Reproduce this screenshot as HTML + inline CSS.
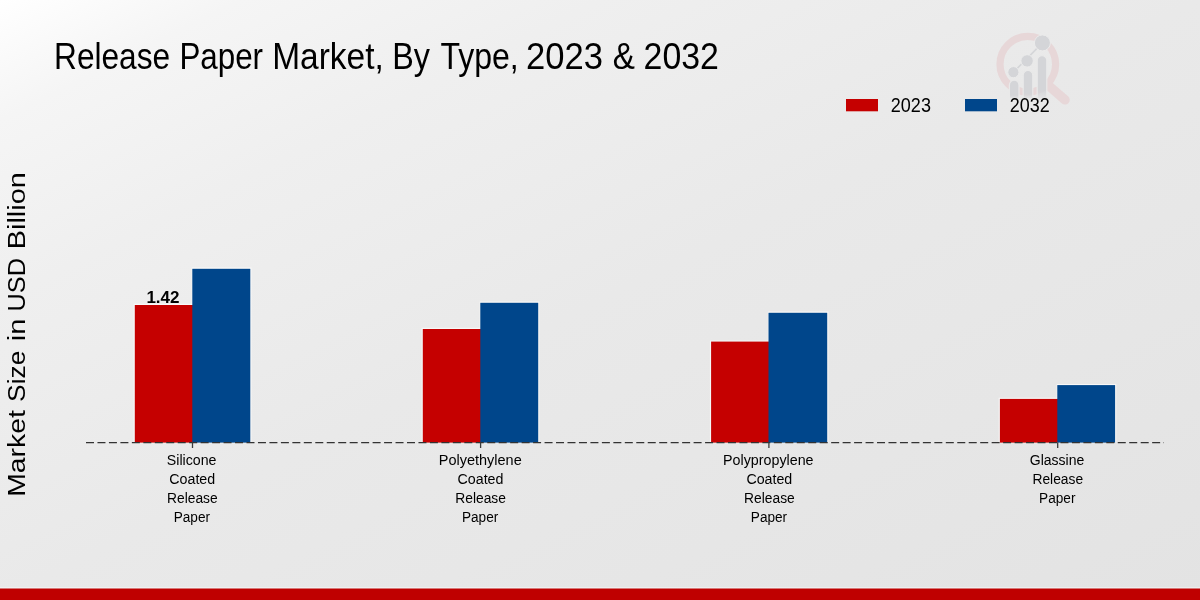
<!DOCTYPE html>
<html><head><meta charset="utf-8">
<style>
html,body{margin:0;padding:0;width:1200px;height:600px;overflow:hidden}
body{background:linear-gradient(to bottom right,#ffffff 0%,#f5f5f5 10%,#efefef 25%,#e9e9e9 50%,#e6e6e6 75%,#e3e3e3 100%);font-family:"Liberation Sans",sans-serif;position:relative}
svg{position:absolute;left:0;top:0;will-change:transform}
</style></head><body>
<svg width="1200" height="600" viewBox="0 0 1200 600" font-family="Liberation Sans, sans-serif">
  <!-- watermark logo -->
  <defs>
    <linearGradient id="barfade" x1="0" y1="0" x2="0" y2="1" gradientUnits="objectBoundingBox">
      <stop offset="0" stop-color="#d4d5d8"/>
      <stop offset="0.8" stop-color="#d4d5d8"/>
      <stop offset="1" stop-color="#d4d5d8" stop-opacity="0.2"/>
    </linearGradient>
  </defs>
  <g>
    <circle cx="1027.8" cy="64.2" r="27.8" fill="none" stroke="#e7d7d8" stroke-width="7.2"/>
    <line x1="1049" y1="86" x2="1065" y2="99.8" stroke="#e7d7d8" stroke-width="9.5" stroke-linecap="round"/>
    <g stroke="#e9e9e9" stroke-width="1.2">
      <path d="M1009.4 99 V85 a4.8 4.8 0 0 1 9.6 0 V99 Z" fill="url(#barfade)"/>
      <path d="M1023.2 99 V75.2 a4.8 4.8 0 0 1 9.6 0 V99 Z" fill="url(#barfade)"/>
      <path d="M1037.2 99 V60.4 a4.8 4.8 0 0 1 9.6 0 V99 Z" fill="url(#barfade)"/>
    </g>
    <line x1="1013.4" y1="72.2" x2="1042.4" y2="42.9" stroke="#d4d5d8" stroke-width="1.5"/>
    <g fill="#d4d5d8" stroke="#ebebeb" stroke-width="1">
      <circle cx="1013.4" cy="72.2" r="5.6"/>
      <circle cx="1027.1" cy="60.9" r="6.2"/>
      <circle cx="1042.4" cy="42.9" r="8"/>
    </g>
  </g>
  <!-- title -->
  <g font-size="36" fill="#000">
    <text x="54.06" y="68.6" textLength="116.08" lengthAdjust="spacingAndGlyphs">Release</text>
    <text x="179.39" y="68.6" textLength="83.68" lengthAdjust="spacingAndGlyphs">Paper</text>
    <text x="272.21" y="68.6" textLength="111.61" lengthAdjust="spacingAndGlyphs">Market,</text>
    <text x="392.31" y="68.6" textLength="37.71" lengthAdjust="spacingAndGlyphs">By</text>
    <text x="440.41" y="68.6" textLength="78.31" lengthAdjust="spacingAndGlyphs">Type,</text>
    <text x="526.08" y="68.6" textLength="76.97" lengthAdjust="spacingAndGlyphs">2023</text>
    <text x="612.83" y="68.6" textLength="22.19" lengthAdjust="spacingAndGlyphs">&amp;</text>
    <text x="643.62" y="68.6" textLength="75.35" lengthAdjust="spacingAndGlyphs">2032</text>
  </g>
  <!-- legend -->
  <rect x="846" y="99" width="32" height="12.3" fill="#c50000"/>
  <text x="890.82" y="112.3" font-size="20.5" textLength="40.12" lengthAdjust="spacingAndGlyphs" fill="#000">2023</text>
  <rect x="965" y="99" width="32" height="12.3" fill="#00468b"/>
  <text x="1009.82" y="112.3" font-size="20.5" textLength="39.91" lengthAdjust="spacingAndGlyphs" fill="#000">2032</text>
  <!-- y label -->
  <g transform="translate(25,0) rotate(-90)" font-size="23" fill="#000">
    <text x="-496.76" y="0" textLength="86.53" lengthAdjust="spacingAndGlyphs">Market</text>
    <text x="-401.95" y="0" textLength="51.31" lengthAdjust="spacingAndGlyphs">Size</text>
    <text x="-341.27" y="0" textLength="22.68" lengthAdjust="spacingAndGlyphs">in</text>
    <text x="-311.5" y="0" textLength="53.42" lengthAdjust="spacingAndGlyphs">USD</text>
    <text x="-249.21" y="0" textLength="76.93" lengthAdjust="spacingAndGlyphs">Billion</text>
  </g>
  <!-- bars -->
  <g fill="none" stroke="#fbfbfb" stroke-width="1.2" opacity="0.8">
    <path d="M134.20 442.6 V304.40 H192.30 V268.20 H250.90 V442.6"/>
    <path d="M422.20 442.6 V328.40 H480.30 V302.20 H538.80 V442.6"/>
    <path d="M710.50 442.6 V341.00 H768.50 V312.20 H827.80 V442.6"/>
    <path d="M999.30 442.6 V398.30 H1057.30 V384.50 H1115.70 V442.6"/>
  </g>
  <rect x="134.8" y="305" width="58.50" height="137.60" fill="#c50000"/>
  <rect x="192.3" y="268.8" width="58.00" height="173.80" fill="#00468b"/>
  <rect x="422.8" y="329" width="58.50" height="113.60" fill="#c50000"/>
  <rect x="480.3" y="302.8" width="57.90" height="139.80" fill="#00468b"/>
  <rect x="711.1" y="341.6" width="58.40" height="101.00" fill="#c50000"/>
  <rect x="768.5" y="312.8" width="58.70" height="129.80" fill="#00468b"/>
  <rect x="999.9" y="398.9" width="58.40" height="43.70" fill="#c50000"/>
  <rect x="1057.3" y="385.1" width="57.80" height="57.50" fill="#00468b"/>
  <!-- baseline -->
  <line x1="86" y1="442.6" x2="1164" y2="442.6" stroke="#333" stroke-width="1.3" stroke-dasharray="8 3.464"/>
  <!-- ticks -->
  <g stroke="#3c3c3c" stroke-width="1.3">
    <line x1="192.5" y1="442.6" x2="192.5" y2="448"/>
    <line x1="480.6" y1="442.6" x2="480.6" y2="448"/>
    <line x1="768.9" y1="442.6" x2="768.9" y2="448"/>
    <line x1="1057.7" y1="442.6" x2="1057.7" y2="448"/>
  </g>
  <!-- data label -->
  <text x="146.4" y="302.6" font-size="16.5" font-weight="bold" textLength="33.16" lengthAdjust="spacingAndGlyphs" fill="#000">1.42</text>
  <!-- category labels -->
  <g font-size="15.5" fill="#000">
    <text x="166.78" y="465.35" textLength="49.67" lengthAdjust="spacingAndGlyphs">Silicone</text>
    <text x="169.28" y="483.55" textLength="45.92" lengthAdjust="spacingAndGlyphs">Coated</text>
    <text x="167.01" y="502.55" textLength="50.67" lengthAdjust="spacingAndGlyphs">Release</text>
    <text x="173.72" y="521.55" textLength="36.31" lengthAdjust="spacingAndGlyphs">Paper</text>
    <text x="438.77" y="465.35" textLength="82.95" lengthAdjust="spacingAndGlyphs">Polyethylene</text>
    <text x="457.53" y="483.55" textLength="45.92" lengthAdjust="spacingAndGlyphs">Coated</text>
    <text x="455.26" y="502.55" textLength="50.67" lengthAdjust="spacingAndGlyphs">Release</text>
    <text x="461.97" y="521.55" textLength="36.31" lengthAdjust="spacingAndGlyphs">Paper</text>
    <text x="723.08" y="465.35" textLength="90.44" lengthAdjust="spacingAndGlyphs">Polypropylene</text>
    <text x="746.38" y="483.55" textLength="45.92" lengthAdjust="spacingAndGlyphs">Coated</text>
    <text x="744.11" y="502.55" textLength="50.67" lengthAdjust="spacingAndGlyphs">Release</text>
    <text x="750.82" y="521.55" textLength="36.31" lengthAdjust="spacingAndGlyphs">Paper</text>
    <text x="1029.80" y="465.35" textLength="54.49" lengthAdjust="spacingAndGlyphs">Glassine</text>
    <text x="1032.41" y="483.55" textLength="50.67" lengthAdjust="spacingAndGlyphs">Release</text>
    <text x="1039.12" y="502.55" textLength="36.31" lengthAdjust="spacingAndGlyphs">Paper</text>
  </g>
  <!-- bottom bar -->
  <rect x="0" y="587.4" width="1200" height="1.2" fill="#f6fafa" opacity="0.8"/>
  <rect x="0" y="588.5" width="1200" height="11.5" fill="#bf0000"/>
</svg>
</body></html>
